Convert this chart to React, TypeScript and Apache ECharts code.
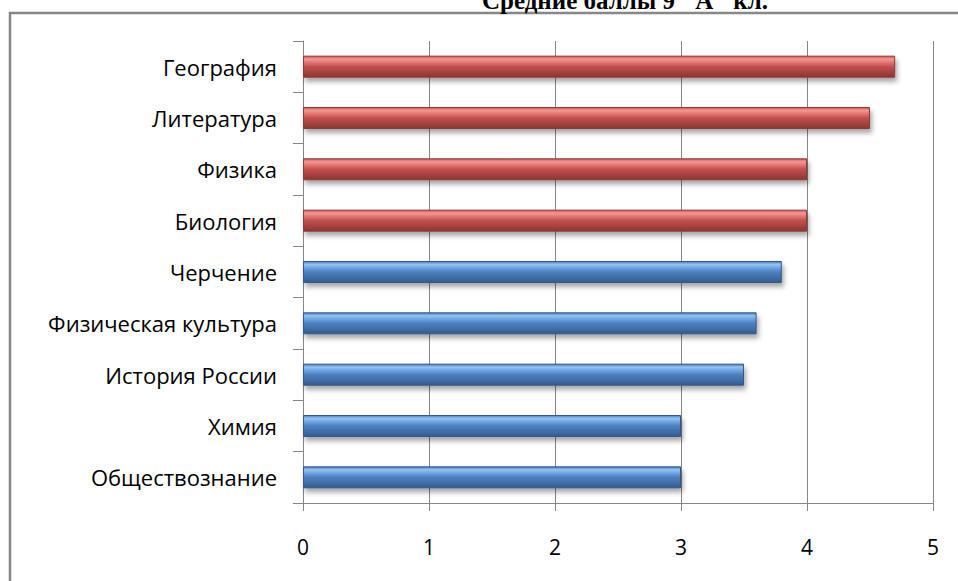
import React, { useEffect, useRef } from "react";
import * as echarts from "echarts";

const titleText = 'Средние баллы 9 "А" кл.';
const categories = [
  "Обществознание",
  "Химия",
  "История России",
  "Физическая культура",
  "Черчение",
  "Биология",
  "Физика",
  "Литература",
  "География",
];
const values = [3.0, 3.0, 3.5, 3.6, 3.8, 4.0, 4.0, 4.5, 4.7];
const groups = ["blue", "blue", "blue", "blue", "blue", "red", "red", "red", "red"];
const xTicks = [0, 1, 2, 3, 4, 5];

const palettes: Record<string, { stops: string[]; border: string }> = {
  red: { stops: ["#c85652", "#f49896", "#e0716e", "#c0504d", "#a8423f", "#8a3533"], border: "#8c3a38" },
  blue: { stops: ["#4a7cc0", "#92c4f2", "#6a9fdd", "#4d80c0", "#416fa9", "#345a8c"], border: "#34598a" },
};

function gradient(name: string) {
  const p = palettes[name];
  const pos = [0, 0.14, 0.32, 0.5, 0.75, 1];
  return new echarts.graphic.LinearGradient(
    0, 0, 0, 1,
    p.stops.map((c, i) => ({ offset: pos[i], color: c }))
  );
}

export default function App() {
  const ref = useRef<HTMLDivElement>(null);
  useEffect(() => {
    if (!ref.current) return;
    const chart = echarts.init(ref.current, undefined, { renderer: "svg" });
    const gray = "#868686";
    chart.setOption({
      animation: false,
      backgroundColor: "#ffffff",
      graphic: [
        {
          type: "rect",
          shape: { x: 10, y: 13, width: 960, height: 600 },
          style: { fill: "none", stroke: "#878787", lineWidth: 2.5 },
          silent: true,
        },
        {
          type: "text",
          x: 625,
          y: 0,
          style: {
            text: titleText,
            font: "bold 25px 'Liberation Serif', 'DejaVu Serif', serif",
            fill: "#000",
            align: "center",
            verticalAlign: "middle",
          },
        },
      ],
      grid: { left: 303, right: 25, top: 41, bottom: 78, containLabel: false },
      xAxis: {
        type: "value",
        min: xTicks[0],
        max: xTicks[xTicks.length - 1],
        interval: 1,
        axisLine: { show: true, lineStyle: { color: gray, width: 1 } },
        axisTick: { show: true, length: 8, lineStyle: { color: gray } },
        splitLine: { show: true, lineStyle: { color: gray, width: 1 } },
        axisLabel: {
          color: "#000",
          fontSize: 21,
          margin: 33,
          fontFamily: "'Open Sans', sans-serif",
        },
      },
      yAxis: {
        type: "category",
        data: categories,
        axisLine: { show: true, lineStyle: { color: gray, width: 1 } },
        axisTick: { show: true, length: 10, alignWithLabel: false, lineStyle: { color: gray } },
        splitLine: { show: false },
        axisLabel: {
          color: "#000",
          fontSize: 22,
          margin: 26,
          fontFamily: "'Open Sans', sans-serif",
        },
      },
      series: [
        {
          type: "bar",
          barWidth: 22,
          data: values.map((v, i) => ({
            value: v,
            itemStyle: {
              color: gradient(groups[i]),
              borderColor: palettes[groups[i]].border,
              borderWidth: 1,
              shadowColor: "rgba(0,0,0,0.35)",
              shadowBlur: 5,
              shadowOffsetX: 2,
              shadowOffsetY: 4,
            },
          })),
        },
      ],
    });
    return () => chart.dispose();
  }, []);
  return (
    <div
      ref={ref}
      style={{ position: "fixed", left: 0, top: 0, width: 958, height: 581 }}
    />
  );
}
